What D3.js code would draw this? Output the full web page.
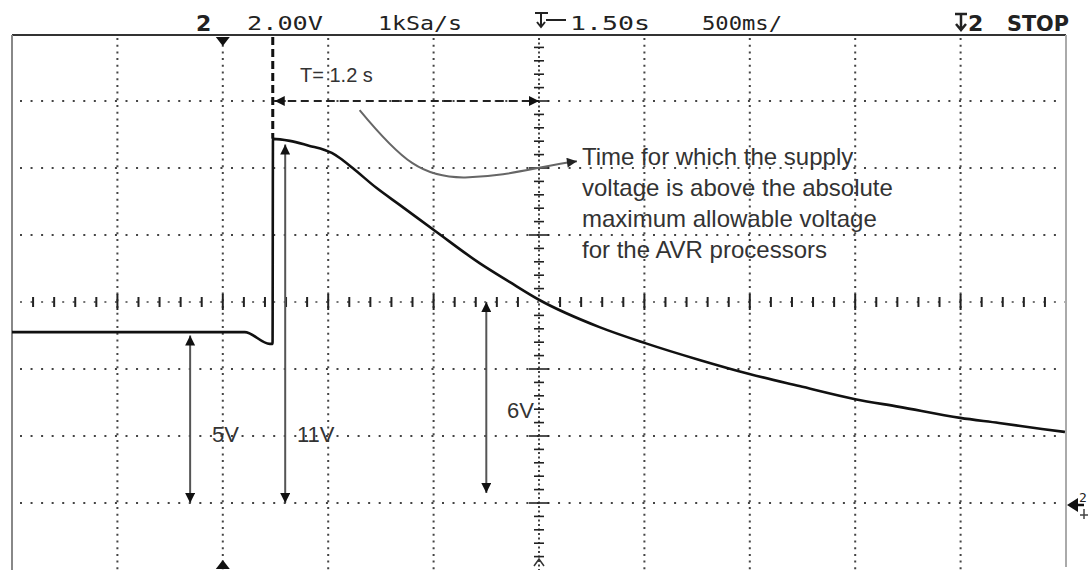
<!DOCTYPE html>
<html>
<head>
<meta charset="utf-8">
<script src="https://cdn.jsdelivr.net/npm/d3@7"></script>
<style>
  html, body { margin: 0; padding: 0; background: #fff; }
  svg { display: block; }
</style>
</head>
<body>
<svg id="chart" width="1089" height="576"></svg>
<script>
// ---- data ----
const timeS = [0, 1.104, 1.223, 1.236, 1.238, 1.318, 1.412, 1.483, 1.517, 1.555, 1.616, 1.730, 1.839, 2.014, 2.218, 2.360, 2.502, 2.787, 3.000, 3.261, 3.498, 3.735, 4.000, 4.209, 4.498, 4.682, 4.886, 4.995];
const volts = [5.10, 5.10, 4.75, 4.75, 10.87, 10.81, 10.66, 10.54, 10.45, 10.30, 10.00, 9.40, 8.90, 8.09, 7.16, 6.60, 6.06, 5.25, 4.78, 4.27, 3.85, 3.49, 3.10, 2.87, 2.54, 2.39, 2.21, 2.12];

const xDomain = [0, 5];          // 10 div x 500 ms
const yDomain = [-2, 14];        // 8 div x 2 V
const xGrid = [0.5, 1, 1.5, 2, 3, 3.5, 4, 4.5];
const yGrid = [0, 2, 4, 8, 10, 12];
const xCenter = 2.5, yCenter = 6;

const headerTexts = ["2", "2.00V", "1kSa/s", "1.50s", "500ms/", "2", "STOP"];
const noteLines = ["Time for which the supply", "voltage is above the absolute", "maximum allowable voltage", "for the AVR processors"];
const spanLabel = "T= 1.2 s";
const stepStart = 1.237, spanEnd = 2.5, spanLevel = 12;
const levelArrows = [
  { t: 0.845, v0: 5.0, v1: 0, label: "5V" },
  { t: 1.296, v0: 10.7, v1: 0, label: "11V" },
  { t: 2.250, v0: 6.0, v1: 0.3, label: "6V" }
];

// ---- drawing ----
const svg = d3.select("#chart");
const x = d3.scaleLinear().domain(xDomain).range([12, 1066]);
const y = d3.scaleLinear().domain(yDomain).range([570, 34]);

const defs = svg.append("defs");
function arrowMarker(id, fill, w, h) {
  defs.append("marker").attr("id", id)
    .attr("viewBox", "0 0 10 10").attr("refX", 10).attr("refY", 5)
    .attr("markerUnits", "userSpaceOnUse")
    .attr("markerWidth", w).attr("markerHeight", h)
    .attr("orient", "auto-start-reverse")
    .append("path").attr("d", "M0,0 L10,5 L0,10 Z").attr("fill", fill);
}
arrowMarker("headB", "#111", 14, 10);
arrowMarker("headG", "#222", 20, 10);

const gGrid = svg.append("g");
const dotCol = "#444";
// dotted vertical grid lines
gGrid.selectAll("line.vg").data(xGrid).join("line")
  .attr("x1", d => x(d)).attr("x2", d => x(d))
  .attr("y1", y(14) + 4).attr("y2", y(-2))
  .attr("stroke", dotCol).attr("stroke-width", 2)
  .attr("stroke-dasharray", "2,4.7");
// dotted horizontal grid lines
gGrid.selectAll("line.hg").data(yGrid).join("line")
  .attr("x1", x(0) + 8).attr("x2", x(5) - 2)
  .attr("y1", d => y(d)).attr("y2", d => y(d))
  .attr("stroke", dotCol).attr("stroke-width", 2)
  .attr("stroke-dasharray", "2,8.55");

// center crosshair with minor ticks
gGrid.append("line").attr("x1", x(0) + 8).attr("x2", x(5)).attr("y1", y(yCenter)).attr("y2", y(yCenter))
  .attr("stroke", dotCol).attr("stroke-width", 1.5).attr("stroke-dasharray", "2,8.55");
gGrid.append("line").attr("x1", x(xCenter)).attr("x2", x(xCenter)).attr("y1", y(14) + 4).attr("y2", y(-2))
  .attr("stroke", dotCol).attr("stroke-width", 2).attr("stroke-dasharray", "2,2.5");
const xMinor = d3.range(0.1, 5, 0.1).map(d => +d.toFixed(2)).filter(d => Math.abs(d - xCenter) > 0.01);
gGrid.selectAll("line.xm").data(xMinor).join("line")
  .attr("x1", d => x(d)).attr("x2", d => x(d))
  .attr("y1", d => y(yCenter) - (Math.abs(d * 2 - Math.round(d * 2)) < 0.01 ? 8 : 5))
  .attr("y2", d => y(yCenter) + (Math.abs(d * 2 - Math.round(d * 2)) < 0.01 ? 8 : 5))
  .attr("stroke", "#222").attr("stroke-width", 2);
const yMinor = d3.range(-1.6, 14, 0.4).map(d => +d.toFixed(2)).filter(d => Math.abs(d - yCenter) > 0.01 && d < 13.9);
gGrid.selectAll("line.ym").data(yMinor).join("line")
  .attr("y1", d => y(d)).attr("y2", d => y(d))
  .attr("x1", d => x(xCenter) - (Math.abs(d / 2 - Math.round(d / 2)) < 0.01 ? 10 : 5))
  .attr("x2", d => x(xCenter) + (Math.abs(d / 2 - Math.round(d / 2)) < 0.01 ? 10 : 5))
  .attr("stroke", "#222").attr("stroke-width", 1.6);

// frame
svg.append("line").attr("x1", x(0)).attr("x2", x(5)).attr("y1", 35).attr("y2", 35)
  .attr("stroke", "#333").attr("stroke-width", 2);
svg.append("line").attr("x1", x(0)).attr("x2", x(0)).attr("y1", 35).attr("y2", y(-2))
  .attr("stroke", "#888").attr("stroke-width", 2);
svg.append("line").attr("x1", x(5)).attr("x2", x(5)).attr("y1", 35).attr("y2", y(-2) - 3)
  .attr("stroke", "#aaa").attr("stroke-width", 2);

// trace
const pts = timeS.map((t, i) => [t, volts[i]]);
svg.append("path").datum(pts)
  .attr("d", d3.line().x(d => x(d[0])).y(d => y(d[1])).curve(d3.curveMonotoneX))
  .attr("fill", "none").attr("stroke", "#111").attr("stroke-width", 2.6).attr("stroke-linejoin", "round");

// T span annotation
svg.append("line").attr("x1", x(stepStart)).attr("x2", x(stepStart))
  .attr("y1", 37).attr("y2", y(10.87))
  .attr("stroke", "#111").attr("stroke-width", 3).attr("stroke-dasharray", "8,4");
svg.append("line").attr("x1", x(stepStart) + 2).attr("x2", x(spanEnd))
  .attr("y1", y(spanLevel)).attr("y2", y(spanLevel))
  .attr("stroke", "#222").attr("stroke-width", 2).attr("stroke-dasharray", "8,5")
  .attr("marker-start", "url(#headB)").attr("marker-end", "url(#headB)");
svg.append("text").attr("x", 300).attr("y", 82)
  .attr("font-family", "Liberation Sans, Arial, sans-serif").attr("font-size", 20).attr("fill", "#333")
  .text(spanLabel);

// curved pointer
svg.append("path")
  .attr("d", `M${x(1.649)},${y(11.73)} C${x(1.85)},${y(10.2)} ${x(1.95)},${y(9.7)} ${x(2.15)},${y(9.72)} S${x(2.5)},${y(10.05)} ${x(2.68)},${y(10.2)}`)
  .attr("fill", "none").attr("stroke", "#666").attr("stroke-width", 2)
  .attr("marker-end", "url(#headG)");
svg.append("g").selectAll("text").data(noteLines).join("text")
  .attr("x", 582).attr("y", (d, i) => 165 + i * 31)
  .attr("font-family", "Liberation Sans, Arial, sans-serif").attr("font-size", 24).attr("fill", "#333")
  .text(d => d);

// level arrows
const gArr = svg.append("g");
levelArrows.forEach(a => {
  gArr.append("line").attr("x1", x(a.t)).attr("x2", x(a.t))
    .attr("y1", y(a.v0)).attr("y2", y(a.v1))
    .attr("stroke", "#555").attr("stroke-width", 2)
    .attr("marker-start", "url(#headB)").attr("marker-end", "url(#headB)");
});
const labelPos = [[212, 442], [297, 442], [507, 418]];
gArr.selectAll("text").data(levelArrows).join("text")
  .attr("x", (d, i) => labelPos[i][0]).attr("y", (d, i) => labelPos[i][1])
  .attr("font-family", "Liberation Sans, Arial, sans-serif").attr("font-size", 22).attr("fill", "#333")
  .text(d => d.label);

// markers
svg.append("path").attr("d", `M${x(1) - 7},37 L${x(1) + 7},37 L${x(1)},46 Z`).attr("fill", "#111");
svg.append("path").attr("d", `M${x(1) - 7},569 L${x(1) + 7},569 L${x(1)},560 Z`).attr("fill", "#111");
svg.append("path").attr("d", `M${x(2.5) - 5},566 L${x(2.5)},559 L${x(2.5) + 5},566`).attr("fill", "none").attr("stroke", "#333").attr("stroke-width", 1.5);
const gy = y(0) + 2;
svg.append("path").attr("d", `M1067,${gy} L1078,${gy - 7} L1078,${gy + 7} Z`).attr("fill", "#111");
svg.append("line").attr("x1", 1070).attr("x2", 1084).attr("y1", gy).attr("y2", gy).attr("stroke", "#111").attr("stroke-width", 2.5);
svg.append("text").attr("x", 1079).attr("y", gy - 3).attr("font-family", "DejaVu Sans Mono, monospace").attr("font-size", 13).attr("fill", "#222").text("2");
svg.append("path").attr("d", `M1080,${gy + 10} L1088,${gy + 10} M1084,${gy + 4} L1084,${gy + 14}`).attr("fill", "none").attr("stroke", "#444").attr("stroke-width", 1.5);

// header
const hf = "DejaVu Sans Mono, monospace";
const head = svg.append("g").attr("fill", "#222");
head.append("text").attr("x", 196).attr("y", 31).attr("font-family", "DejaVu Sans, sans-serif").attr("font-weight", "bold").attr("font-size", 22).text(headerTexts[0]);
head.append("text").attr("x", 247).attr("y", 30).attr("font-family", hf).attr("font-size", 20).attr("textLength", 76).attr("lengthAdjust", "spacingAndGlyphs").text(headerTexts[1]);
head.append("text").attr("x", 378).attr("y", 30).attr("font-family", hf).attr("font-size", 20).attr("textLength", 84).attr("lengthAdjust", "spacingAndGlyphs").text(headerTexts[2]);
// trigger symbol
head.append("path").attr("d", "M535,13 L548,13 M541,13 L541,27 M537,22 L541,27 L545,22").attr("fill", "none").attr("stroke", "#222").attr("stroke-width", 2);
head.append("line").attr("x1", 546).attr("x2", 566).attr("y1", 20).attr("y2", 20).attr("stroke", "#222").attr("stroke-width", 2);
head.append("text").attr("x", 570).attr("y", 30).attr("font-family", hf).attr("font-size", 20).attr("textLength", 80).attr("lengthAdjust", "spacingAndGlyphs").text(headerTexts[3]);
head.append("text").attr("x", 702).attr("y", 30).attr("font-family", hf).attr("font-size", 20).attr("textLength", 80).attr("lengthAdjust", "spacingAndGlyphs").text(headerTexts[4]);
head.append("path").attr("d", "M955,14 L967,14 M961,14 L961,30 M956,24 L961,30 L966,24").attr("fill", "none").attr("stroke", "#222").attr("stroke-width", 2.5);
head.append("text").attr("x", 968).attr("y", 31).attr("font-family", "DejaVu Sans, sans-serif").attr("font-weight", "bold").attr("font-size", 22).text(headerTexts[5]);
head.append("text").attr("x", 1007).attr("y", 31).attr("font-family", "DejaVu Sans, sans-serif").attr("font-weight", "bold").attr("font-size", 21).attr("textLength", 62).attr("lengthAdjust", "spacingAndGlyphs").text(headerTexts[6]);
</script>
</body>
</html>
